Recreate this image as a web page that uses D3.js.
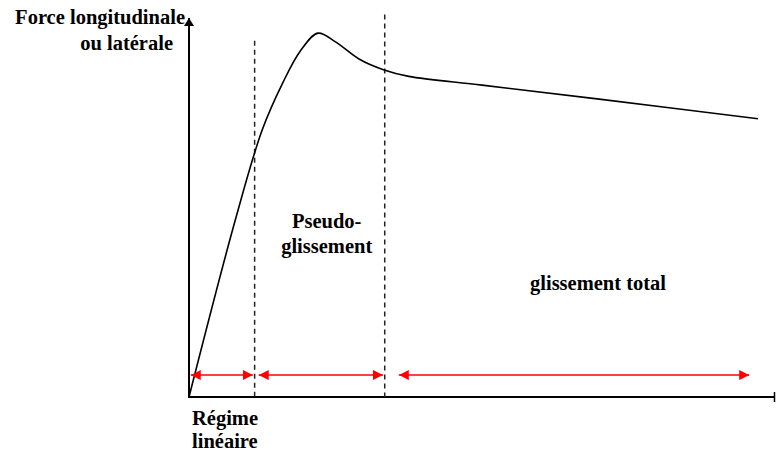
<!DOCTYPE html>
<html lang="fr">
<head>
<meta charset="utf-8">
<title>Force / glissement</title>
<script src="https://d3js.org/d3.v7.min.js"></script>
<style>
  body { margin: 0; background: #fff; }
  text { font-family: "Liberation Serif", "Times New Roman", serif; font-weight: bold; font-size: 20.5px; fill: #000; }
</style>
</head>
<body>
<script>
// courbe force / glissement (unites arbitraires 0..100)
var slipX  = [0, 7.9, 12.5, 16.0, 19.0, 22.0, 25.0, 29.0, 33.3, 37.5, 50.0, 70.0, 97.1];
var forceY = [0, 46.7, 70.5, 82.9, 91.3, 96.0, 93.7, 89.2, 86.3, 84.6, 82.3, 78.6, 73.4];

// limites des zones (dashed lines) et hauteur de debut
var zoneBounds = [11.2, 33.4];
var zoneTops   = [94.0, 100.9];

// fleches rouges : debut / fin de chaque zone
var arrowStart = [0.3, 11.9, 35.8];
var arrowEnd   = [10.9, 33.1, 95.6];
var arrowLevel = 5.8;

var labels = [
  {lines: ["Pseudo-", "glissement"], x: 23.5, y: 44.5, anchor: "middle"},
  {lines: ["glissement total"], x: 69.8, y: 28.2, anchor: "middle"}
];

var w = 776, h = 452;
var x = d3.scaleLinear().domain([0, 100]).range([189, 775]);
var y = d3.scaleLinear().domain([0, 100]).range([397, 18]);

var svg = d3.select("body").append("svg")
    .attr("width", w)
    .attr("height", h);

var defs = svg.append("defs");
defs.append("marker")
    .attr("id", "red")
    .attr("viewBox", "0 0 10 10")
    .attr("refX", 10).attr("refY", 5)
    .attr("markerWidth", 10).attr("markerHeight", 10)
    .attr("markerUnits", "userSpaceOnUse")
    .attr("orient", "auto-start-reverse")
  .append("path")
    .attr("d", "M0,0L10,5L0,10Z")
    .attr("fill", "#ff0000");
defs.append("marker")
    .attr("id", "blk")
    .attr("viewBox", "0 0 8 10")
    .attr("refX", 8).attr("refY", 5)
    .attr("markerWidth", 8).attr("markerHeight", 10)
    .attr("markerUnits", "userSpaceOnUse")
    .attr("orient", "auto")
  .append("path")
    .attr("d", "M0,0L8,5L0,10Z")
    .attr("fill", "#000");

// axes
svg.append("line")
    .attr("x1", x(0)).attr("y1", y(0))
    .attr("x2", x(0)).attr("y2", y(100))
    .attr("stroke", "#000").attr("stroke-width", 2)
    .attr("marker-end", "url(#blk)");
svg.append("line")
    .attr("x1", x(0) - 1).attr("y1", y(0))
    .attr("x2", x(100)).attr("y2", y(0))
    .attr("stroke", "#000").attr("stroke-width", 2);
svg.append("line")
    .attr("x1", x(100) - 0.5).attr("y1", y(0) - 5)
    .attr("x2", x(100) - 0.5).attr("y2", y(0) + 5)
    .attr("stroke", "#000").attr("stroke-width", 1.5);

// zones
svg.selectAll("line.zone")
    .data(zoneBounds)
    .enter().append("line")
    .attr("class", "zone")
    .attr("x1", function(d) { return x(d); })
    .attr("x2", function(d) { return x(d); })
    .attr("y1", function(d, i) { return y(zoneTops[i]); })
    .attr("y2", y(0))
    .attr("stroke", "#222")
    .attr("stroke-width", 1.5)
    .attr("stroke-dasharray", "5,4");

// courbe
var pts = slipX.map(function(d, i) { return [d, forceY[i]]; });
var line = d3.line()
    .x(function(d) { return x(d[0]); })
    .y(function(d) { return y(d[1]); })
    .curve(d3.curveCatmullRom.alpha(0.5));
svg.append("path")
    .datum(pts)
    .attr("d", line)
    .attr("fill", "none")
    .attr("stroke", "#000")
    .attr("stroke-width", 1.6);

// fleches rouges
svg.selectAll("line.arrow")
    .data(arrowStart)
    .enter().append("line")
    .attr("class", "arrow")
    .attr("x1", function(d) { return x(d); })
    .attr("x2", function(d, i) { return x(arrowEnd[i]); })
    .attr("y1", y(arrowLevel))
    .attr("y2", y(arrowLevel))
    .attr("stroke", "#ff0000")
    .attr("stroke-width", 1.5)
    .attr("marker-start", "url(#red)")
    .attr("marker-end", "url(#red)");

// textes
svg.append("text").attr("x", 185).attr("y", 24).attr("text-anchor", "end").text("Force longitudinale");
svg.append("text").attr("x", 173).attr("y", 50).attr("text-anchor", "end").text("ou latérale");
svg.append("text").attr("x", 192).attr("y", 425).text("Régime");
svg.append("text").attr("x", 192).attr("y", 448).text("linéaire");

labels.forEach(function(l) {
  var t = svg.append("text")
      .attr("text-anchor", l.anchor)
      .attr("x", x(l.x)).attr("y", y(l.y));
  l.lines.forEach(function(s, k) {
    t.append("tspan").attr("x", x(l.x)).attr("dy", k === 0 ? 0 : 25).text(s);
  });
});
</script>
</body>
</html>
